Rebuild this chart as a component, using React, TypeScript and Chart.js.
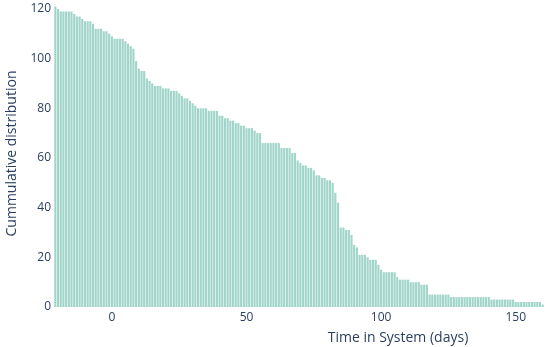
import React, { useEffect, useRef } from "react";
import { Chart, registerables } from "chart.js";

Chart.register(...registerables);

// Day of the first bin (each bin is one day wide)
const firstDay = -21;

// Cumulative count (descending) per day
const counts = [
  121, 120, 119, 119, 119, 119, 119, 118, 117, 117,
  116, 115, 115, 115, 114, 112, 112, 112, 111, 111,
  110, 109, 108, 108, 108, 108, 107, 106, 105, 104,
  99, 96, 95, 95, 92, 91, 90, 89, 89, 89,
  88, 88, 88, 87, 87, 87, 86, 85, 84, 84,
  83, 82, 81, 80, 80, 80, 80, 79, 79, 79,
  79, 77, 77, 76, 76, 75, 75, 74, 74, 73,
  73, 72, 72, 72, 71, 70, 70, 66, 66, 66,
  66, 66, 66, 66, 64, 64, 64, 64, 62, 62,
  59, 58, 57, 57, 56, 56, 55, 53, 53, 52,
  52, 51, 51, 50, 46, 42, 32, 32, 31, 31,
  29, 25, 24, 21, 21, 21, 20, 19, 19, 19,
  17, 15, 14, 14, 14, 14, 14, 12, 11, 11,
  11, 11, 10, 10, 10, 10, 9, 9, 9, 5,
  5, 5, 5, 5, 5, 5, 5, 4, 4, 4,
  4, 4, 4, 4, 4, 4, 4, 4, 4, 4,
  4, 4, 3, 3, 3, 3, 3, 3, 3, 3,
  3, 2, 2, 2, 2, 2, 2, 2, 2, 2,
  2, 1,
];

const xTicks = [0, 50, 100, 150];
const yTicks = [0, 20, 40, 60, 80, 100, 120];
const xTitle = "Time in System (days)";
const yTitle = "Cummulative distribution";

const FONT = "'Open Sans', Verdana, Arial, sans-serif";
const TEXT = "#2a3f5f";

export default function App() {
  const ref = useRef<HTMLCanvasElement | null>(null);

  useEffect(() => {
    const canvas = ref.current;
    if (!canvas) return;
    const points = counts.map((c, i) => ({ x: firstDay + i, y: c }));

    const xTitlePlugin = {
      id: "xTitlePlugin",
      afterDraw(chart: any) {
        const { ctx, chartArea } = chart;
        ctx.save();
        ctx.font = `14px ${FONT}`;
        ctx.fillStyle = TEXT;
        ctx.textAlign = "center";
        ctx.textBaseline = "middle";
        const x = chartArea.left + (chartArea.right - chartArea.left) * 0.702;
        ctx.fillText(xTitle, x, chartArea.bottom + 31);
        ctx.restore();
      },
    };

    const chart = new Chart(canvas, {
      type: "bar",
      data: {
        datasets: [
          {
            data: points as any,
            backgroundColor: "#a2d5ca",
            borderWidth: 0,
            barPercentage: 0.8,
            categoryPercentage: 1,
          },
        ],
      },
      options: {
        responsive: false,
        animation: false,
        layout: { padding: { left: 0, right: 6, top: 0, bottom: 0 } },
        plugins: {
          legend: { display: false },
          tooltip: { enabled: false },
        },
        scales: {
          x: {
            type: "linear",
            offset: false,
            min: firstDay - 0.5,
            max: firstDay + counts.length - 0.5,
            grid: { display: false, drawTicks: false, offset: false },
            border: { display: false },
            ticks: {
              color: TEXT,
              font: { family: FONT, size: 12 },
              padding: 3,
              maxRotation: 0,
            },
            afterBuildTicks: (s: any) => {
              s.ticks = xTicks.map((v) => ({ value: v }));
            },
            afterFit: (s: any) => {
              s.height = 40;
              s.paddingLeft = 0;
              s.paddingRight = 0;
            },
          },
          y: {
            type: "linear",
            min: 0,
            max: 123.6,
            grid: { display: false, drawTicks: false },
            border: { display: false },
            ticks: {
              color: TEXT,
              font: { family: FONT, size: 12 },
              padding: 3,
            },
            afterBuildTicks: (s: any) => {
              s.ticks = yTicks.map((v) => ({ value: v }));
            },
            title: {
              display: true,
              text: yTitle,
              color: TEXT,
              font: { family: FONT, size: 14, weight: "normal" },
              padding: { top: 4, bottom: 0 },
            },
            afterFit: (s: any) => {
              s.width = 54;
              s.paddingTop = 0;
              s.paddingBottom = 0;
            },
          },
        },
      },
      plugins: [xTitlePlugin],
    });
    return () => chart.destroy();
  }, []);

  return (
    <div style={{ position: "absolute", left: 0, top: 0, width: 550, height: 347, background: "#fff" }}>
      <canvas ref={ref} width={550} height={347} />
    </div>
  );
}
